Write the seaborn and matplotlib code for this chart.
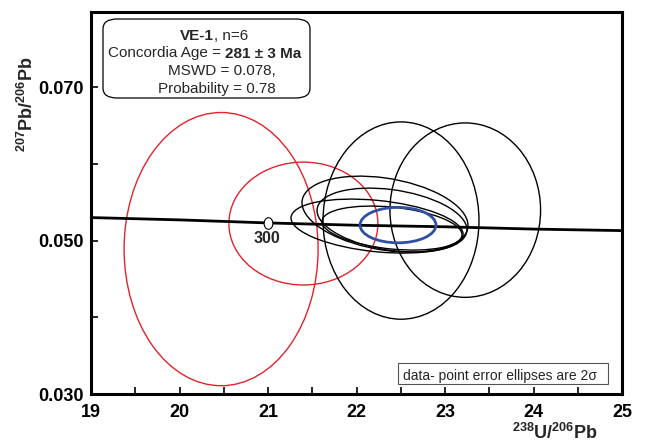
import numpy as np
import pandas as pd
import matplotlib
matplotlib.use("Agg")
import matplotlib.pyplot as plt
import seaborn as sns
from matplotlib.patches import Circle, FancyBboxPatch, Rectangle
from matplotlib.transforms import Affine2D
from matplotlib.path import Path
from matplotlib.ticker import FixedLocator

# ---------------- data ----------------
conc_x = [19, 20, 21, 22, 23, 24, 25]
conc_y = [0.0530, 0.0527, 0.0523, 0.0520, 0.0518, 0.0515, 0.0513]

age_x = [21.0]
age_y = [0.0523]
age_lbl = ["300"]

# ellipses: centre x, centre y, x half-extent (2s), y half-extent (2s), rho
red_x = [20.47, 21.40]
red_y = [0.04889, 0.05222]
red_sx = [1.096, 0.842]
red_sy = [0.01781, 0.00801]
red_rho = [0.0, 0.0]

blk_x = [22.503, 23.229, 22.322, 22.401, 22.232, 22.401]
blk_y = [0.05261, 0.05397, 0.05345, 0.05267, 0.05189, 0.05163]
blk_sx = [0.881, 0.851, 0.938, 0.847, 0.972, 0.791]
blk_sy = [0.01286, 0.01137, 0.00495, 0.00417, 0.00352, 0.00287]
blk_rho = [0.0, 0.0, -0.3, -0.3, -0.3, -0.3]

mean_x = [22.469]
mean_y = [0.05202]
mean_sx = [0.429]
mean_sy = [0.00231]
mean_rho = [0.0]

x_major = [19, 20, 21, 22, 23, 24, 25]
x_minor = [19.5, 20.5, 21.5, 22.5, 23.5, 24.5]
y_major = [0.030, 0.050, 0.070]
y_minor = [0.040, 0.060]
y_major_lbl = ["0.030", "0.050", "0.070"]

# ---------------- style ----------------
sns.set_theme(style="white")
plt.rcParams["font.family"] = ["Liberation Sans", "DejaVu Sans"]
plt.rcParams["mathtext.fontset"] = "custom"
plt.rcParams["mathtext.rm"] = "Liberation Sans"
plt.rcParams["mathtext.bf"] = "Liberation Sans:bold"
plt.rcParams["mathtext.it"] = "Liberation Sans:italic"

W, H = 646, 444
fig = plt.figure(figsize=(W / 100, H / 100), dpi=100)
ax = fig.add_axes([91 / W, 1 - 394 / H, 531 / W, 382 / H])

ax.set_xlim(19, 25)
ax.set_ylim(0.030, 0.0798)

RED = "#e3232c"
BLUE = "#2f4fa0"


def draw_ell(cx, cy, sx, sy, rho, color, lw, z=3):
    m = np.array([[sx, 0.0, cx],
                  [rho * sy, sy * np.sqrt(1 - rho ** 2), cy],
                  [0.0, 0.0, 1.0]])
    c = Circle((0, 0), 1, fill=False, ec=color, lw=lw, zorder=z,
               transform=Affine2D(m) + ax.transData)
    ax.add_patch(c)


for i in range(len(red_x)):
    draw_ell(red_x[i], red_y[i], red_sx[i], red_sy[i], red_rho[i], RED, 1.0)
for i in range(len(blk_x)):
    draw_ell(blk_x[i], blk_y[i], blk_sx[i], blk_sy[i], blk_rho[i], "black", 1.0)

# concordia curve
df_c = pd.DataFrame({"x": conc_x, "y": conc_y})
sns.lineplot(data=df_c, x="x", y="y", color="black", lw=2.0, ax=ax, zorder=4)

for i in range(len(mean_x)):
    draw_ell(mean_x[i], mean_y[i], mean_sx[i], mean_sy[i], mean_rho[i], BLUE, 2.0, z=5)

# age marker
oval = Path.unit_circle().transformed(Affine2D().scale(0.75, 1.0))
df_a = pd.DataFrame({"x": age_x, "y": age_y})
sns.scatterplot(data=df_a, x="x", y="y", marker=oval, s=70, color="white",
                edgecolor="black", linewidth=0.8, ax=ax, zorder=6)
for xv, yv, lb in zip(age_x, age_y, age_lbl):
    ax.annotate(lb, (xv, yv), xytext=(-1, -16), textcoords="offset pixels",
                ha="center", va="center", fontsize=11.5, fontweight="bold")

# ticks & spines
ax.xaxis.set_major_locator(FixedLocator(x_major))
ax.xaxis.set_minor_locator(FixedLocator(x_minor))
ax.yaxis.set_major_locator(FixedLocator(y_major))
ax.yaxis.set_minor_locator(FixedLocator(y_minor))
ax.set_xticklabels([str(v) for v in x_major])
ax.set_yticklabels(y_major_lbl)
ax.tick_params(which="both", direction="in", length=5, width=1.2,
               bottom=True, left=True, top=False, right=False, colors="black")
ax.tick_params(axis="x", which="major", pad=7, labelsize=13)
ax.tick_params(axis="y", which="major", pad=5, labelsize=13)
for lab in ax.get_xticklabels() + ax.get_yticklabels():
    lab.set_fontweight("bold")
for sp in ax.spines.values():
    sp.set_visible(True)
    sp.set_color("black")
    sp.set_linewidth(2.2)

ax.set_xlabel(r"$\mathbf{^{238}U/^{206}Pb}$", fontsize=13)
ax.set_ylabel(r"$\mathbf{^{207}Pb/^{206}Pb}$", fontsize=13)
ax.xaxis.set_label_coords((555 - 91) / 531, (394 - 423) / 382)
ax.yaxis.set_label_coords((37 - 91) / 531, (394 - 104) / 382)

# info box
box = FancyBboxPatch((103 / W, 1 - 98 / H), (310 - 103) / W, (98 - 19) / H,
                     boxstyle="round,pad=0,rounding_size=0.022",
                     transform=fig.transFigure, fc="white", ec="black", lw=0.9,
                     zorder=10)
fig.patches.append(box)

r = fig.canvas.get_renderer()


def width_of(s, weight, size):
    t = fig.text(0, 0, s, fontsize=size, fontweight=weight)
    w = t.get_window_extent(r).width
    t.remove()
    return w


def rich_line(x_px, base_px, parts, size=11):
    x = x_px
    for s, wgt in parts:
        if s == " ":
            x += width_of("a a", "normal", size) - width_of("aa", "normal", size)
            continue
        t = fig.text(x / W, 1 - base_px / H, s, fontsize=size, fontweight=wgt,
                     ha="left", va="baseline", zorder=11)
        x += t.get_window_extent(r).width


rich_line(180, 40.5, [("VE-1", "bold"), (", n=6", "normal")])
rich_line(108, 57.5, [("Concordia Age =", "normal"), (" ", None), ("281 \u00b1 3 Ma", "bold")])
rich_line(168, 75, [("MSWD = 0.078,", "normal")])
rich_line(158, 92.5, [("Probability = 0.78", "normal")])

# note box
note = Rectangle((398 / W, 1 - 384 / H), (608 - 398) / W, (384 - 363) / H,
                 transform=fig.transFigure, fc="white", ec="#555555", lw=0.8,
                 zorder=10)
fig.patches.append(note)
fig.text(403 / W, 1 - 379.5 / H, "data- point error ellipses are 2\u03c3",
         fontsize=10, ha="left", va="baseline", zorder=11)

fig.savefig("out.png", dpi=100)
